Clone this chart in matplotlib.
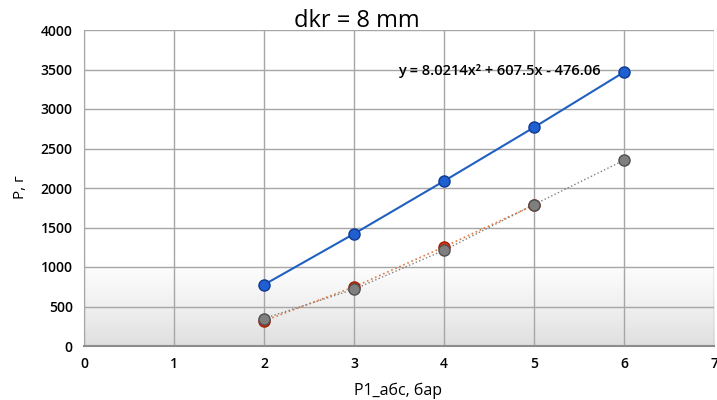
import numpy as np
import matplotlib.pyplot as plt

plt.rcParams['font.family'] = ['Open Sans', 'DejaVu Sans']

p_abs = [2, 3, 4, 5, 6]
mass_blue = [775, 1420, 2088, 2768, 3468]
p_red = [2, 3, 4, 5]
mass_red = [318, 748, 1255, 1785]
p_gray = [2, 3, 4, 5, 6]
mass_gray = [348, 718, 1212, 1790, 2352]

x_ticks = [0, 1, 2, 3, 4, 5, 6, 7]
y_ticks = [0, 500, 1000, 1500, 2000, 2500, 3000, 3500, 4000]
trend_label = 'y = 8.0214x² + 607.5x - 476.06'

fig = plt.figure(figsize=(7.17, 4.0), dpi=100)
ax = fig.add_axes([0.117, 0.135, 0.879, 0.79])

# light gray fade in the lower part of the plot area
grad = np.linspace(0, 1, 200).reshape(-1, 1)
shade = np.clip(grad / 0.27, 0, 1) ** 0.8
rgb = np.zeros((200, 1, 3))
for i, c in enumerate([0.87, 0.87, 0.87]):
    rgb[:, :, i] = c + (1 - c) * shade
ax.imshow(rgb, extent=[0, 7, 0, 4000], aspect='auto', origin='lower', zorder=0)

ax.set_xlim(0, 7)
ax.set_ylim(0, 4000)
ax.set_xticks(x_ticks)
ax.set_yticks(y_ticks)
ax.grid(True, color='#a6a6a6', linewidth=1.0, zorder=1)
ax.tick_params(length=0, labelsize=10, pad=8)
for lbl in ax.get_xticklabels() + ax.get_yticklabels():
    lbl.set_fontweight('semibold')

for side in ['top', 'right']:
    ax.spines[side].set_visible(False)
ax.spines['left'].set_color('#a6a6a6')
ax.spines['bottom'].set_color('#8c8c8c')
ax.spines['bottom'].set_linewidth(1.5)

ax.plot(p_red, mass_red, color='#e07a40', linestyle=':', linewidth=1.2, zorder=3)
ax.plot(p_gray, mass_gray, color='#808080', linestyle=':', linewidth=1.0, zorder=3)
ax.plot(p_red, mass_red, 'o', color='#e03010', markeredgecolor='#a02000',
        markersize=8, zorder=4)
ax.plot(p_gray, mass_gray, 'o', color='#7f7f7f', markeredgecolor='#505050',
        markersize=8, zorder=5)
ax.plot(p_abs, mass_blue, '-o', color='#2060c0', markerfacecolor='#1f5fd0',
        markeredgecolor='#103a90', linewidth=1.5, markersize=8, zorder=6)

ax.text(4.61, 3480, trend_label, fontsize=10.5, fontweight='semibold',
        ha='center', va='center', zorder=7)

fig.text(0.498, 0.948, 'dkr = 8 mm', fontsize=17, ha='center', va='center')
fig.text(0.555, 0.022, 'P1_абс, бар', fontsize=11.5, ha='center', va='center')
fig.text(0.028, 0.532, 'P, г', fontsize=11, ha='center', va='center', rotation=90)

fig.savefig('out.png', dpi=100)
